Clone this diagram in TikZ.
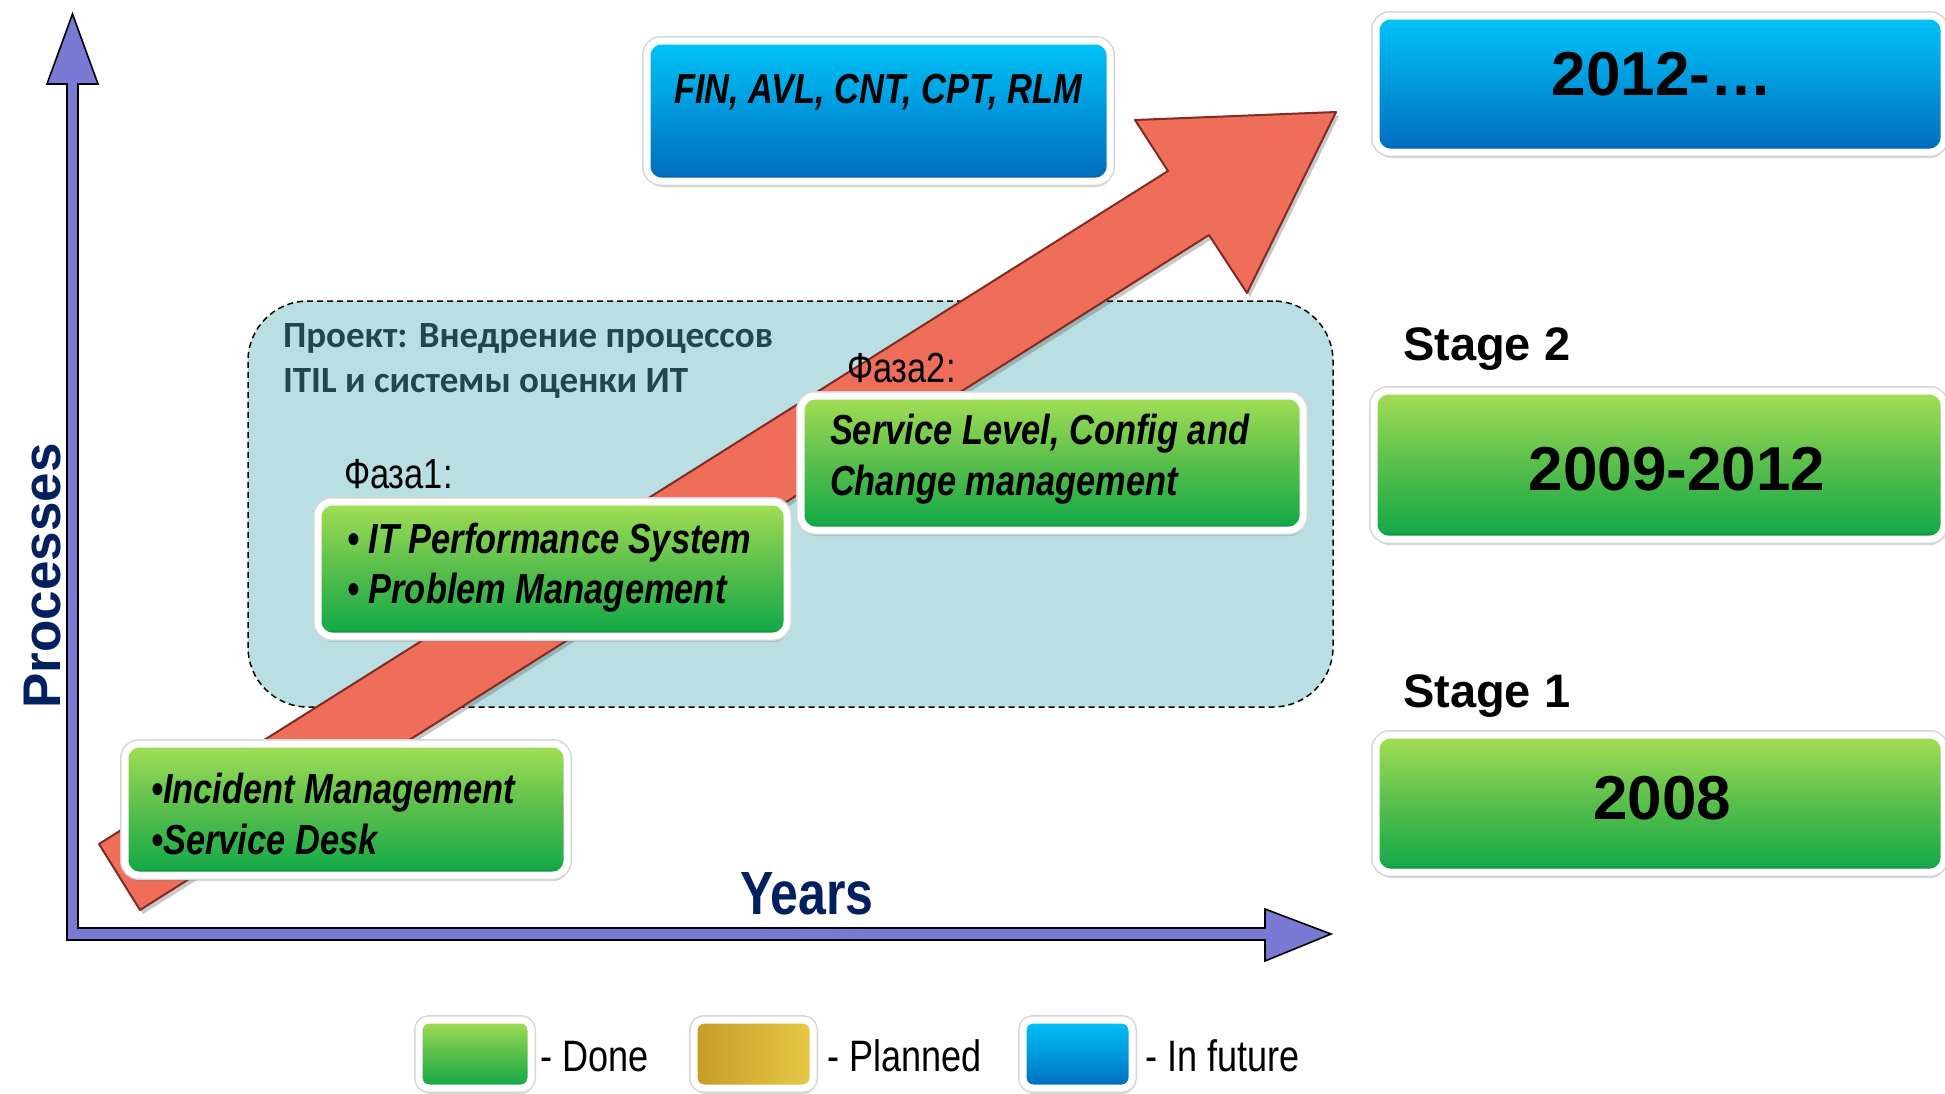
\documentclass[tikz,border=0pt]{standalone}
\usepackage{fontspec}
\setmainfont{Liberation Sans}
\newfontfamily\narrowfont[FakeStretch=0.82]{Liberation Sans}
\newfontfamily\calibfont{Carlito}
\usetikzlibrary{shadows}

% palette
\definecolor{axisfill}{RGB}{122,122,212}
\definecolor{navy}{RGB}{0,32,96}
\definecolor{projfill}{RGB}{185,223,227}
\definecolor{projtext}{RGB}{34,70,76}
\definecolor{gtop}{RGB}{158,220,84}
\definecolor{gmid}{RGB}{88,190,76}
\definecolor{gbot}{RGB}{22,170,72}
\definecolor{gdark}{RGB}{0,118,48}
\definecolor{btop}{RGB}{0,192,245}
\definecolor{bmid}{RGB}{0,152,220}
\definecolor{bbot}{RGB}{0,112,192}
\definecolor{bdark}{RGB}{0,68,138}
\definecolor{ylight}{RGB}{232,200,70}
\definecolor{ydark}{RGB}{196,156,40}
\definecolor{arrowfill}{RGB}{238,110,90}
\definecolor{arrowedge}{RGB}{128,44,34}
\definecolor{rimgray}{RGB}{214,214,218}

% box gradients: dark rim at the bottom, light at the top
\pgfdeclareverticalshading{greenshade}{100bp}{color(0bp)=(gdark); color(25bp)=(gdark); color(27.5bp)=(gbot); color(50bp)=(gmid); color(73bp)=(gtop); color(100bp)=(gtop)}
\pgfdeclareverticalshading{blueshade}{100bp}{color(0bp)=(bdark); color(25bp)=(bdark); color(27.5bp)=(bbot); color(50bp)=(bmid); color(73bp)=(btop); color(100bp)=(btop)}

\newcommand\bxfont{\narrowfont\bfseries\itshape\fontsize{42}{50}\selectfont}
\newcommand\yrfont{\bfseries\fontsize{62}{70}\selectfont}
\newcommand\stfont{\bfseries\fontsize{47}{55}\selectfont}
\newcommand\phfont{\narrowfont\fontsize{42}{50}\selectfont}
\newcommand\lgfont{\narrowfont\fontsize{44}{50}\selectfont}
\newcommand\prfont{\calibfont\bfseries\fontsize{37}{44}\selectfont}

\begin{document}
\begin{tikzpicture}[x=1pt,y=-1pt,
  lbl/.style={inner sep=0pt, outer sep=0pt},
  boxbase/.style={rounded corners=14pt, draw=white, line width=7pt, inner sep=0pt,
    drop shadow={shadow xshift=1pt, shadow yshift=-6pt, opacity=0.22, fill=black!70},
    preaction={draw=rimgray, line width=10pt}},
  greenbox/.style={boxbase, shade, shading=greenshade},
  bluebox/.style={boxbase, shade, shading=blueshade},
  yellowbox/.style={boxbase, left color=ydark, right color=ylight},
  projarea/.style={draw=black, dashed, dash pattern=on 6pt off 4pt, line width=1.5pt,
    fill=projfill, rounded corners=60pt, inner sep=0pt},
  axisshape/.style={fill=axisfill, draw=black, line width=1.6pt, line join=miter},
  bigarrow/.style={fill=arrowfill, draw=arrowedge, line width=2pt, line join=round,
    drop shadow={shadow xshift=3pt, shadow yshift=-4pt, opacity=0.3, fill=black!70}},
]
\useasboundingbox (0,0) rectangle (1945,1093);
\fill[white] (0,0) rectangle (1945,1093);

% axes: vertical and horizontal arrows joined in one outline
\draw[axisshape] (67,940) -- (67,84) -- (47,84) -- (72.5,14) -- (98,84) -- (78,84)
  -- (78,928) -- (1265,928) -- (1265,909) -- (1331,934) -- (1265,961) -- (1265,940) -- cycle;

\node[lbl, rotate=90, anchor=base, text=navy, font=\bfseries\fontsize{53}{60}\selectfont]
  (processes) at (60,576) {Processes};
\node[lbl, anchor=base, text=navy, font=\narrowfont\bfseries\fontsize{61}{66}\selectfont]
  (years) at (807,914) {Years};

% project area
\node[projarea, minimum width=1085pt, minimum height=406pt] (proj) at (790.5,504) {};
\node[lbl, anchor=base west, text=projtext, font=\prfont] (projtitle1) at (283,347) {Проект: Внедрение процессов};
\node[lbl, anchor=base west, text=projtext, font=\prfont] (projtitle2) at (283,392) {ITIL и системы оценки ИТ};

% growth arrow
\coordinate (tailU) at (99,844);
\coordinate (tailL) at (140,910);
\coordinate (baseU) at (1168,171);
\coordinate (baseL) at (1209,235);
\coordinate (wingL) at (1135,120);
\coordinate (wingR) at (1247,293);
\coordinate (tip) at (1336,112);
\draw[bigarrow] (tailU) -- (baseU) -- (wingL) -- (tip) -- (wingR) -- (baseL) -- (tailL) -- cycle;

% phase labels
\node[lbl, anchor=base west, font=\phfont] (faza1) at (344,488) {Фаза1:};
\node[lbl, anchor=base west, font=\phfont] (faza2) at (847,382) {Фаза2:};

% process boxes
\node[bluebox, minimum width=463pt, minimum height=140pt] (fin) at (878.5,111) {};
\node[lbl, anchor=base, font=\bxfont] (fintext) at (878,103) {FIN, AVL, CNT, CPT, RLM};

\node[greenbox, minimum width=469pt, minimum height=134pt] (ph1) at (552.5,569) {};
\node[lbl, anchor=base west, font=\bxfont] (ph1a) at (347,553) {• IT Performance System};
\node[lbl, anchor=base west, font=\bxfont] (ph1b) at (347,603) {• Problem Management};

\node[greenbox, minimum width=502pt, minimum height=134pt] (ph2) at (1052,463) {};
\node[lbl, anchor=base west, font=\bxfont] (ph2a) at (830,444) {Service Level, Config and};
\node[lbl, anchor=base west, font=\bxfont] (ph2b) at (830,495) {Change management};

\node[greenbox, minimum width=442pt, minimum height=131pt] (inc) at (346,809.5) {};
\node[lbl, anchor=base west, font=\bxfont] (inca) at (151,803) {•Incident Management};
\node[lbl, anchor=base west, font=\bxfont] (incb) at (151,854) {•Service Desk};

% stage column
\node[bluebox, minimum width=568pt, minimum height=136pt] (y2012) at (1660,84) {};
\node[lbl, anchor=base, font=\yrfont] (y2012t) at (1662,95) {2012-…};

\node[lbl, anchor=base west, font=\stfont] (stage2) at (1403,360) {Stage 2};
\node[greenbox, minimum width=570pt, minimum height=148pt] (y0912) at (1659,465) {};
\node[lbl, anchor=base, font=\yrfont] (y0912t) at (1677,490) {2009-2012};

\node[lbl, anchor=base west, font=\stfont] (stage1) at (1403,707) {Stage 1};
\node[greenbox, minimum width=568pt, minimum height=137pt] (y2008) at (1660,803.5) {};
\node[lbl, anchor=base, font=\yrfont] (y2008t) at (1662,819) {2008};

% legend
\node[greenbox, rounded corners=10pt, minimum width=112pt, minimum height=68pt] (lgdone) at (475,1054) {};
\node[lbl, anchor=base west, font=\lgfont] (lgdonet) at (540,1071) {- Done};
\node[yellowbox, rounded corners=10pt, minimum width=119pt, minimum height=68pt] (lgplan) at (753.5,1054) {};
\node[lbl, anchor=base west, font=\lgfont] (lgplant) at (827,1071) {- Planned};
\node[bluebox, rounded corners=10pt, minimum width=109pt, minimum height=68pt] (lgfut) at (1077.5,1054) {};
\node[lbl, anchor=base west, font=\lgfont] (lgfutt) at (1145,1071) {- In future};
\end{tikzpicture}
\end{document}
